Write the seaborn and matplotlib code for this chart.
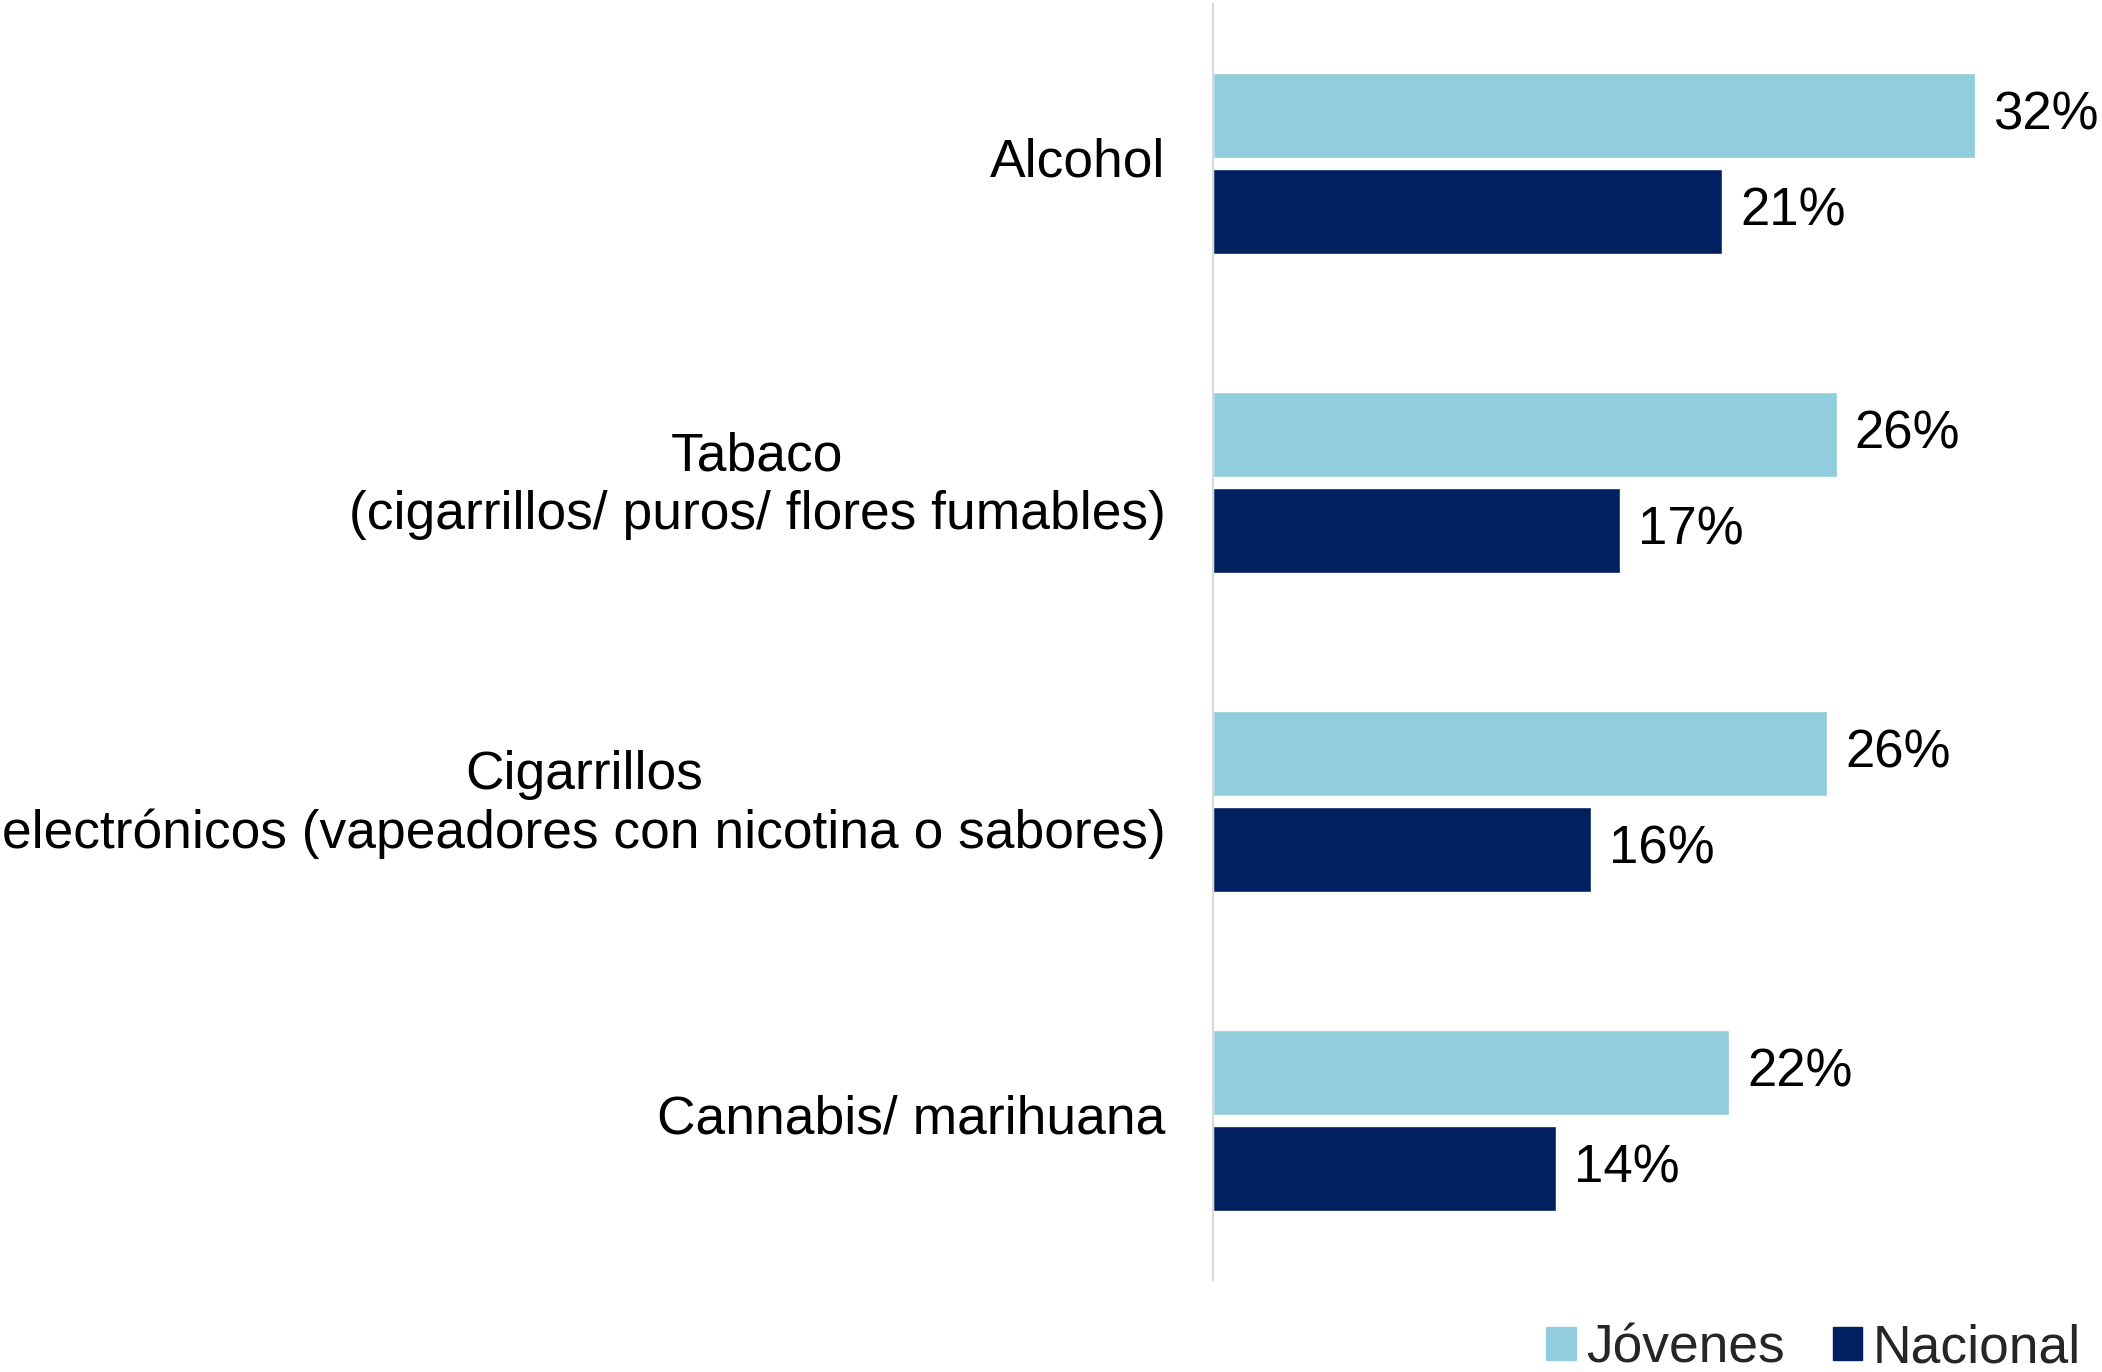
import matplotlib
matplotlib.use('Agg')
import matplotlib.pyplot as plt
import matplotlib.patches as mpatches
import matplotlib.transforms as mtransforms
import pandas as pd
import seaborn as sns

sns.set_theme()
sns.set_style('white')
plt.rcParams['font.family'] = ['Liberation Sans', 'DejaVu Sans']

# Data
categories = [
    'Alcohol',
    'Tabaco\n(cigarrillos/ puros/ flores fumables)',
    'Cigarrillos\nelectrónicos (vapeadores con nicotina o sabores)',
    'Cannabis/ marihuana',
]
series = ['Jóvenes', 'Nacional']
jovenes = [32.0, 26.2, 25.8, 21.7]
nacional = [21.4, 17.1, 15.9, 14.4]
colors = {'Jóvenes': '#92CDDD', 'Nacional': '#002060'}

df = pd.DataFrame({
    'categoria': categories * 2,
    'serie': ['Jóvenes'] * len(categories) + ['Nacional'] * len(categories),
    'valor': jovenes + nacional,
})

fig = plt.figure(figsize=(21.02, 13.72), dpi=100)
ax = fig.add_axes([0.577, 0.067, 0.423, 0.930])

sns.barplot(data=df, y='categoria', x='valor', hue='serie', orient='h',
            palette=colors, hue_order=series, order=categories,
            width=0.602, gap=0.116, saturation=1, legend=False, ax=ax)

for cont in ax.containers:
    ax.bar_label(cont, labels=[f'{round(v)}%' for v in cont.datavalues],
                 padding=13, fontsize=38, color='black')

ax.set_xlim(0, 37.35)
ax.set_ylim(3.5, -0.5)
ax.set_xlabel('')
ax.set_ylabel('')
ax.set_xticks([])
for side in ['top', 'right', 'bottom']:
    ax.spines[side].set_visible(False)
ax.spines['left'].set_color('#D9D9D9')
ax.spines['left'].set_linewidth(1.5)
ax.tick_params(axis='y', length=0, pad=34, labelsize=38.4, labelcolor='black')
shift = mtransforms.ScaledTranslation(0, 7 / 100, fig.dpi_scale_trans)
for lbl in ax.get_yticklabels():
    lbl.set_multialignment('center')
    lbl.set_linespacing(1.22)
    lbl.set_transform(lbl.get_transform() + shift)

handles = [mpatches.Patch(color=colors[s], label=s) for s in series]
fig.legend(handles=handles, loc='lower right', bbox_to_anchor=(1.013, -0.036),
           ncol=2, frameon=False, fontsize=38.4, handlelength=0.55,
           handleheight=0.55, handletextpad=0.2, columnspacing=0.9)

fig.savefig('out.png', dpi=100)
